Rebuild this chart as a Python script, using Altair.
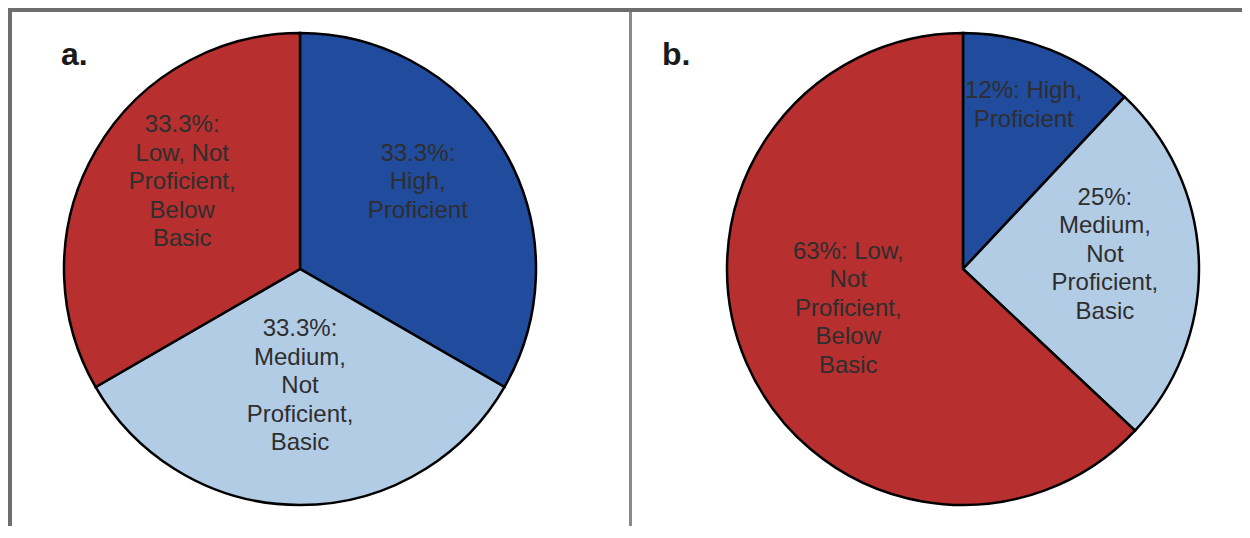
import altair as alt
import pandas as pd

# ---- data ----
categories = ["High", "Medium", "Low"]
slice_order = [0, 1, 2]
values_a = [33.3, 33.3, 33.3]
values_b = [12, 25, 63]
labels_a = [
    "33.3%:\nHigh,\nProficient",
    "33.3%:\nMedium,\nNot\nProficient,\nBasic",
    "33.3%:\nLow, Not\nProficient,\nBelow\nBasic",
]
labels_b = [
    "12%: High,\nProficient",
    "25%:\nMedium,\nNot\nProficient,\nBasic",
    "63%: Low,\nNot\nProficient,\nBelow\nBasic",
]
panel_names = ["a.", "b."]
colors = ["#214B9D", "#B3CCE5", "#B72F2E"]

# ---- layout / style (page has 8px margin) ----
OFF = 8
W, H = 1234, 518


def px(v):
    return v - OFF


R = 236
FONT = "Liberation Sans"
FONT_SIZE = 24
LH = 28.5
TEXT_COLOR = "#2e2e2e"
LABEL_RADIUS_A = {"High": 136, "Medium": 136, "Low": 136}
LABEL_RADIUS_B = {"High": 165, "Medium": 142, "Low": 125}

color_scale = alt.Scale(domain=categories, range=colors)


def pie(values, labels, cx, cy, label_radius, shift):
    df = pd.DataFrame({
        "category": categories,
        "value": values,
        "label": labels,
        "order": slice_order,
    })
    base = alt.Chart(df).encode(
        theta=alt.Theta("value:Q", stack="normalize"),
        order=alt.Order("order:Q", sort="ascending"),
        detail="category:N",
        x=alt.value(px(cx)),
        y=alt.value(px(cy)),
    )
    arcs = base.mark_arc(
        outerRadius=R, stroke="black", strokeWidth=2.5
    ).encode(
        color=alt.Color("category:N", scale=color_scale, legend=None)
    )
    out = [arcs]
    for cat, lab in zip(categories, labels):
        n_lines = lab.count("\n") + 1
        dy = -(n_lines - 1) * LH / 2 + shift
        txt = base.transform_calculate(
            shown=f"datum.category == '{cat}' ? datum.label : ''"
        ).mark_text(
            radius=label_radius[cat],
            fontSize=FONT_SIZE,
            font=FONT,
            lineBreak="\n",
            lineHeight=LH,
            align="center",
            baseline="middle",
            color=TEXT_COLOR,
            dy=dy,
        ).encode(text="shown:N")
        out.append(txt)
    return out


def panel_label(name, x, y):
    return alt.Chart(pd.DataFrame({"t": [name]})).mark_text(
        font="Liberation Sans Narrow, Liberation Sans",
        fontSize=32,
        fontWeight="bold",
        align="left",
        baseline="alphabetic",
        color="#1a1a1a",
    ).encode(text="t:N", x=alt.value(px(x)), y=alt.value(px(y)))


frame_df = pd.DataFrame({"k": [0]})


def rule(x, x2, y, y2, color, width):
    return alt.Chart(frame_df).mark_rule(
        color=color, strokeWidth=width
    ).encode(
        x=alt.value(x), x2=alt.value(x2), y=alt.value(y), y2=alt.value(y2)
    )


frame = [
    rule(px(7), W + 5, px(9.5), px(9.5), "#6d6d6d", 5),
    rule(px(9.5), px(9.5), px(7), H + 5, "#6d6d6d", 5),
    rule(px(630.5), px(630.5), px(12), H + 5, "#8c8884", 3),
]

layers = (
    pie(values_a, labels_a, 300, 269, LABEL_RADIUS_A, -19)
    + pie(values_b, labels_b, 963, 269, LABEL_RADIUS_B, -10)
    + frame
    + [panel_label(panel_names[0], 61, 65), panel_label(panel_names[1], 662, 65)]
)

chart = alt.layer(*layers).properties(
    width=W,
    height=H,
    padding=0,
    autosize=alt.AutoSizeParams(type="none"),
    background="white",
).configure_view(stroke=None)

chart.save("out.html", embed_options={"renderer": "svg", "actions": False})
